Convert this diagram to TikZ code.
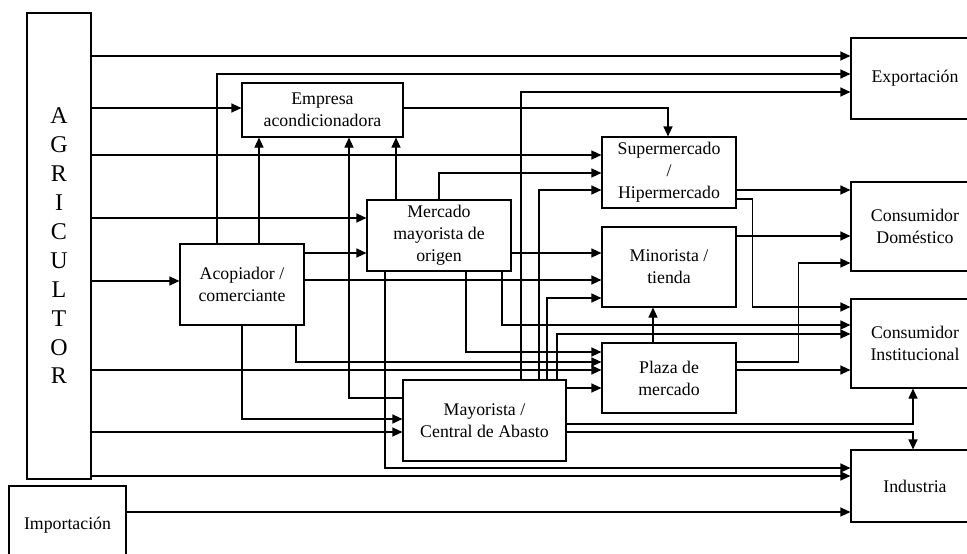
\documentclass[tikz,border=0pt]{standalone}
\usepackage{fontspec}
\setmainfont{Liberation Serif}
\usetikzlibrary{arrows.meta}
\tikzset{
  >={Triangle[length=10pt,width=9pt]},
}
\tikzstyle{box}=[draw,line width=1.1pt,inner sep=0pt,align=center,font=\fontsize{17.8}{22}\selectfont]
\tikzstyle{flow}=[line width=1.1pt,->]
\tikzstyle{big}=[font=\fontsize{24}{28.9}\selectfont]

\begin{document}
\begin{tikzpicture}[x=1pt,y=-1pt]
    \useasboundingbox (0,0) rectangle (967,554);
    % columns of boxes
    \node[box,big,minimum width=64pt,minimum height=466pt] (agr) at (59,246)
      {A\\G\\R\\I\\C\\U\\L\\T\\O\\R};
    \node[box,minimum width=117pt,minimum height=78pt] (imp) at (67.5,525) {Importación};
    \node[box,minimum width=161pt,minimum height=54pt] (emp) at (322.5,110) {Empresa\\acondicionadora};
    \node[box,minimum width=124pt,minimum height=81pt] (aco) at (242,284.5) {Acopiador /\\comerciante};
    \node[box,minimum width=144pt,minimum height=71pt] (mmo) at (439,235.5) {Mercado\\mayorista de\\origen};
    \node[box,minimum width=163pt,minimum height=81pt] (may) at (484.5,420.5) {Mayorista /\\Central de Abasto};
    \node[box,minimum width=134pt,minimum height=71pt] (sup) at (669,172.5) {Supermercado\\/\\Hipermercado};
    \node[box,minimum width=134pt,minimum height=80pt] (min) at (669,267) {Minorista /\\tienda};
    \node[box,minimum width=134pt,minimum height=70pt] (pla) at (669,378) {Plaza de\\mercado};
    \node[box,minimum width=128pt,minimum height=81pt] (exp) at (915,78.5) {Exportación};
    \node[box,minimum width=128pt,minimum height=89pt] (dom) at (915,226.5) {Consumidor\\Doméstico};
    \node[box,minimum width=128pt,minimum height=89pt] (ins) at (915,343.5) {Consumidor\\Institucional};
    \node[box,minimum width=128pt,minimum height=72pt] (ind) at (915,486) {Industria};
    % agricultor
    \draw[flow] (agr.east |- 0,56) -- (exp.west |- 0,56);
    \draw[flow] (agr.east |- 0,108) -- (emp.west |- 0,108);
    \draw[flow] (agr.east |- 0,155) -- (sup.west |- 0,155);
    \draw[flow] (agr.east |- 0,218) -- (mmo.west |- 0,218);
    \draw[flow] (agr.east |- 0,281) -- (aco.west |- 0,281);
    \draw[flow] (agr.east |- 0,370) -- (pla.west |- 0,370);
    \draw[flow] (agr.east |- 0,432) -- (may.west |- 0,432);
    \draw[flow] (agr.east |- 0,476) -- (ind.west |- 0,476);
    \draw[flow] (imp.east |- 0,512) -- (ind.west |- 0,512);
    % acopiador
    \draw[flow] (aco.north -| 217,0) |- (exp.west |- 0,74);
    \draw[flow] (aco.north -| 259,0) -- (emp.south -| 259,0);
    \draw[flow] (aco.east |- 0,253) -- (mmo.west |- 0,253);
    \draw[flow] (aco.east |- 0,280) -- (min.west |- 0,280);
    \draw[flow] (aco.south -| 296,0) |- (pla.west |- 0,362);
    \draw[flow] (aco.south -| 242,0) |- (may.west |- 0,419);
    % empresa
    \draw[flow] (emp.east |- 0,108) -| (sup.north -| 668,0);
    % mercado de origen
    \draw[flow] (mmo.north -| 396,0) -- (emp.south -| 396,0);
    \draw[flow] (mmo.north -| 439,0) |- (sup.west |- 0,173);
    \draw[flow] (mmo.east |- 0,253) -- (min.west |- 0,253);
    \draw[flow] (mmo.south -| 385,0) |- (ind.west |- 0,468);
    \draw[flow] (mmo.south -| 466,0) |- (pla.west |- 0,352);
    \draw[flow] (mmo.south -| 502,0) |- (ins.west |- 0,325);
    % mayorista
    \draw[flow] (may.west |- 0,398) -| (emp.south -| 349,0);
    \draw[flow] (may.north -| 521,0) |- (exp.west |- 0,92);
    \draw[flow] (may.north -| 539,0) |- (sup.west |- 0,190);
    \draw[flow] (may.north -| 547,0) |- (min.west |- 0,298);
    \draw[flow] (may.north -| 557,0) |- (ins.west |- 0,334);
    \draw[flow] (may.east |- 0,388) -- (pla.west |- 0,388);
    \draw[flow] (may.east |- 0,424) -| (ins.south -| 913,0);
    \draw[flow] (may.east |- 0,432) -| (ind.north -| 913,0);
    % minoristas
    \draw[flow] (sup.east |- 0,190) -- (dom.west |- 0,190);
    \draw[flow] (sup.east |- 0,199) -- ++(16,0) |- (ins.west |- 0,307);
    \draw[flow] (min.east |- 0,236) -- (dom.west |- 0,236);
    \draw[flow] (pla.north -| 653,0) -- (min.south -| 653,0);
    \draw[flow] (pla.east |- 0,362) -- ++(62,0) |- (dom.west |- 0,263);
    \draw[flow] (pla.east |- 0,370) -- (ins.west |- 0,370);
\end{tikzpicture}
\end{document}
